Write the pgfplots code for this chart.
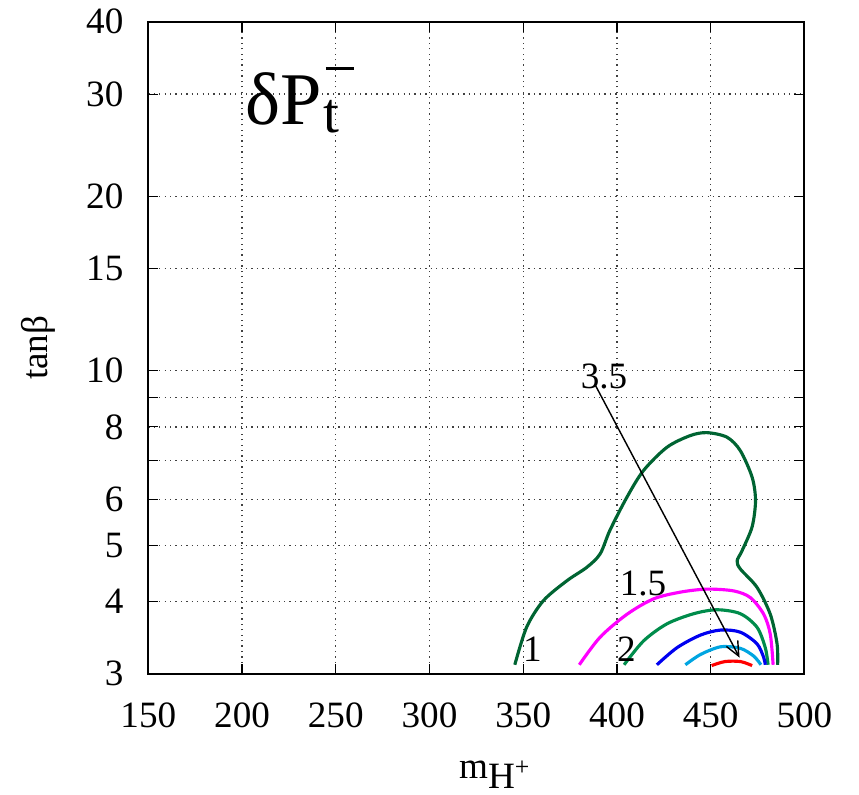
\documentclass[border=0pt]{standalone}
\usepackage{fontspec}
\setmainfont{Liberation Serif}
\usepackage{pgfplots}
\pgfplotsset{compat=1.18}
\usetikzlibrary{arrows.meta}
\definecolor{dkgreen}{RGB}{0,100,50}
\definecolor{mdgreen}{RGB}{0,140,75}
\definecolor{cmag}{RGB}{255,0,255}
\definecolor{cblue}{RGB}{0,0,240}
\definecolor{ccyan}{RGB}{0,165,225}
\definecolor{cred}{RGB}{255,0,0}
\begin{document}
\fontsize{13}{15}\selectfont
\begin{tikzpicture}
\begin{axis}[
  scale only axis,
  width=229.6pt, height=228.2pt,
  xmin=150, xmax=500, ymin=3, ymax=40,
  ymode=log,
  xtick={150,200,250,300,350,400,450,500},
  ytick={3,4,5,6,7,8,9,10,15,20,30,40},
  yticklabels={3,4,5,6,,8,,10,15,20,30,40},
  /pgf/number format/assume math mode=true,
  tick align=inside,
  major tick length=3.5pt,
  tick style={black, line width=0.4pt},
  axis line style={line width=0.7pt},
  grid=major,
  major grid style={black!75, line width=0.45pt, dash pattern=on 0.45pt off 1.45pt},
  xticklabel style={yshift=-5.5pt},
  yticklabel style={xshift=-4.2pt},
  xlabel={m\raisebox{-3.5pt}{H\raisebox{4.5pt}{\fontsize{9}{9}\selectfont +}}},
  xlabel style={at={(axis description cs:0.473,-0.161)}, anchor=base west, inner sep=0pt},
  ylabel={tanβ},
  ylabel style={at={(axis description cs:-0.168,0.5)}, anchor=center, inner sep=0pt},
  clip=false,
]
\coordinate (bl) at (rel axis cs:0,0);
\coordinate (tr) at (rel axis cs:1,1);
% outer contour (1)
\addplot[dkgreen, line width=1.1pt, smooth] coordinates {
(345.5,3.11) (351.8,3.61) (360.7,4.01) (373.2,4.34) (383.9,4.58) (391.0,4.83)
(396.3,5.31) (405.3,6.05) (414.2,6.73) (426.7,7.38) (439.1,7.73) (448.0,7.82)
(458.7,7.68) (465.8,7.28) (472.1,6.55) (473.9,5.97) (472.1,5.38) (466.7,4.89)
(464.1,4.70) (465.8,4.55) (474.7,4.23) (481.8,3.80) (485.4,3.38) (485.7,3.11)};
% 1.5
\addplot[cmag, line width=1.1pt, smooth] coordinates {
(379.9,3.11) (391.0,3.47) (405.3,3.80) (419.5,4.04) (433.8,4.15) (448.0,4.20)
(462.3,4.17) (471.2,4.06) (478.3,3.80) (481.8,3.51) (483.3,3.11)};
% 2
\addplot[mdgreen, line width=1.1pt, smooth] coordinates {
(403.8,3.11) (414.2,3.42) (426.7,3.66) (441.0,3.81) (453.4,3.87) (465.8,3.81)
(474.7,3.61) (479.1,3.33) (480.6,3.11)};
% 2.5
\addplot[cblue, line width=1.1pt, smooth] coordinates {
(421.3,3.11) (432.1,3.33) (444.6,3.50) (455.3,3.57) (465.8,3.54) (474.7,3.38)
(478.3,3.20) (479.1,3.11)};
% 3
\addplot[ccyan, line width=1.1pt, smooth] coordinates {
(436.5,3.11) (444.6,3.24) (455.3,3.34) (465.8,3.32) (472.9,3.22) (476.8,3.11)};
% 3.5
\addplot[cred, line width=1.1pt, smooth] coordinates {
(450.5,3.10) (457.6,3.15) (465.9,3.15) (472.1,3.10)};
% arrow
\addplot[black, line width=0.5pt, -{Straight Barb[length=5pt,width=4.5pt]}] coordinates {
(388.4,9.45) (465.4,3.20)};
\node[anchor=base west, inner sep=0pt] at (axis cs:349.6,3.147) {1};
\node[anchor=base west, inner sep=0pt] at (axis cs:399.8,3.147) {2};
\node[anchor=base west, inner sep=0pt] at (axis cs:401.2,4.10) {1.5};
\node[anchor=base west, inner sep=0pt] at (axis cs:380.4,9.33) {3.5};
\node[anchor=base west, inner sep=0pt] at (axis cs:201.6,26.6)
  {\fontsize{26}{28}\selectfont δP\makebox[0pt][l]{\hspace{0.7pt}\raisebox{-2.8pt}{\fontsize{20}{20}\selectfont t}}\hspace{1.4pt}\raisebox{19pt}{\rule{9.8pt}{1.2pt}}};
\end{axis}
\pgfresetboundingbox
\path ([shift={(-51.9pt,-42.1pt)}]bl) rectangle ([shift={(19.1pt,7.6pt)}]tr);
\end{tikzpicture}
\end{document}
